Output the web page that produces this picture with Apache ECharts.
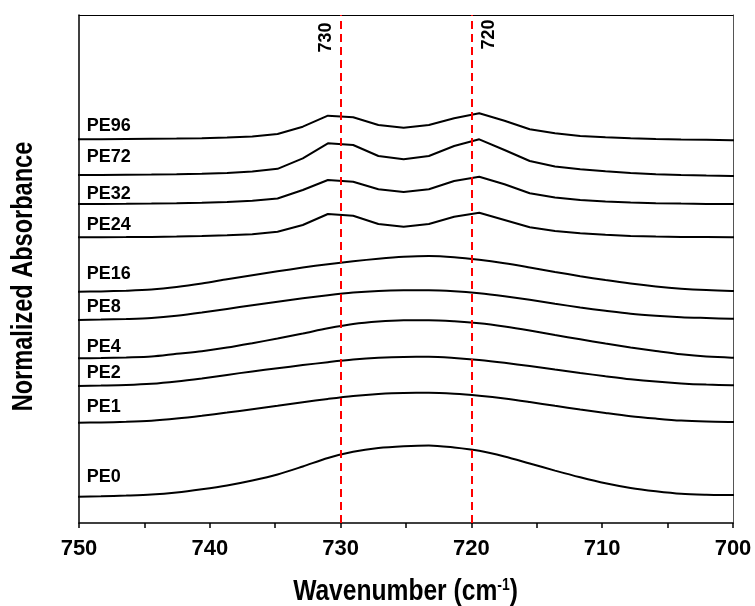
<!DOCTYPE html>
<html>
<head>
<meta charset="utf-8">
<script src="https://cdn.jsdelivr.net/npm/echarts@6/dist/echarts.min.js"></script>
<style>html,body{margin:0;padding:0;background:#fff;}#c{width:755px;height:606px;}</style>
</head>
<body>
<div id="c"></div>
<script>
// ---- data (wavenumber in cm-1, normalized absorbance with vertical offsets) ----
const wavenumber = [750.25, 748.32, 746.39, 744.46, 742.54, 740.61, 738.68, 736.75, 734.82, 732.89, 730.97, 729.04, 727.11, 725.18, 723.25, 721.32, 719.40, 717.47, 715.54, 713.61, 711.68, 709.75, 707.83, 705.90, 703.97, 702.04, 700.11, 698.18];
const pe96 = [3.837, 3.838, 3.840, 3.842, 3.844, 3.848, 3.855, 3.865, 3.890, 3.963, 4.073, 4.057, 3.980, 3.953, 3.980, 4.047, 4.097, 4.023, 3.937, 3.897, 3.870, 3.858, 3.848, 3.841, 3.836, 3.832, 3.828, 3.825];
const pe72 = [3.480, 3.481, 3.483, 3.485, 3.488, 3.493, 3.501, 3.515, 3.542, 3.647, 3.797, 3.780, 3.670, 3.637, 3.670, 3.770, 3.837, 3.730, 3.620, 3.565, 3.537, 3.517, 3.500, 3.488, 3.480, 3.474, 3.470, 3.467];
const pe32 = [3.190, 3.191, 3.192, 3.194, 3.197, 3.202, 3.210, 3.222, 3.245, 3.330, 3.430, 3.413, 3.337, 3.310, 3.337, 3.420, 3.463, 3.387, 3.297, 3.255, 3.230, 3.215, 3.204, 3.198, 3.194, 3.191, 3.189, 3.187];
const pe24 = [2.857, 2.858, 2.859, 2.861, 2.864, 2.869, 2.877, 2.888, 2.913, 2.980, 3.090, 3.073, 2.990, 2.963, 2.990, 3.063, 3.103, 3.030, 2.957, 2.920, 2.897, 2.882, 2.871, 2.865, 2.861, 2.859, 2.857, 2.856];
const pe16 = [2.312, 2.316, 2.323, 2.335, 2.360, 2.395, 2.437, 2.478, 2.517, 2.554, 2.588, 2.618, 2.643, 2.662, 2.670, 2.658, 2.632, 2.597, 2.555, 2.511, 2.468, 2.429, 2.394, 2.365, 2.343, 2.329, 2.321, 2.317];
const pe8  = [2.029, 2.034, 2.040, 2.050, 2.072, 2.104, 2.141, 2.178, 2.213, 2.247, 2.278, 2.304, 2.320, 2.327, 2.328, 2.318, 2.297, 2.267, 2.232, 2.193, 2.155, 2.122, 2.092, 2.072, 2.058, 2.050, 2.043, 2.040];
const pe4  = [1.646, 1.650, 1.656, 1.665, 1.692, 1.718, 1.754, 1.798, 1.845, 1.895, 1.947, 1.990, 2.015, 2.027, 2.028, 2.017, 1.997, 1.965, 1.925, 1.880, 1.837, 1.795, 1.755, 1.720, 1.687, 1.664, 1.653, 1.650];
const pe2  = [1.369, 1.374, 1.380, 1.392, 1.415, 1.446, 1.481, 1.516, 1.548, 1.579, 1.608, 1.634, 1.652, 1.661, 1.662, 1.650, 1.630, 1.602, 1.569, 1.534, 1.500, 1.468, 1.438, 1.414, 1.396, 1.384, 1.377, 1.375];
const pe1  = [1.002, 1.006, 1.012, 1.023, 1.044, 1.072, 1.104, 1.138, 1.172, 1.207, 1.241, 1.271, 1.291, 1.301, 1.302, 1.292, 1.272, 1.245, 1.210, 1.172, 1.135, 1.100, 1.068, 1.044, 1.024, 1.014, 1.010, 1.008];
const pe0  = [0.262, 0.267, 0.274, 0.284, 0.305, 0.337, 0.375, 0.425, 0.485, 0.565, 0.650, 0.712, 0.750, 0.768, 0.776, 0.755, 0.722, 0.665, 0.595, 0.524, 0.457, 0.397, 0.350, 0.317, 0.292, 0.283, 0.280, 0.278];
const seriesNames = ['PE96', 'PE72', 'PE32', 'PE24', 'PE16', 'PE8', 'PE4', 'PE2', 'PE1', 'PE0'];
const refLines = [730, 720];
const xTicks = [750, 740, 730, 720, 710, 700];
const xTitle = 'Wavenumber (cm';
const yTitle = 'Normalized Absorbance';

// ---- presentation ----
const seriesValues = [pe96, pe72, pe32, pe24, pe16, pe8, pe4, pe2, pe1, pe0];
const smoothFlags = [false, false, false, false, true, true, true, true, true, true];
const labelAnchorY = [3.97, 3.663, 3.29, 2.98, 2.487, 2.163, 1.763, 1.497, 1.163, 0.457];
const refLabelPos = [[731.12, 4.855], [718.65, 4.885]];
const FONT = "'Liberation Sans', Arial, Helvetica, sans-serif";

const chart = echarts.init(document.getElementById('c'), null, {renderer: 'canvas'});

const series = seriesNames.map((name, k) => ({
  name: name,
  type: 'line',
  data: wavenumber.map((w, i) => [w, seriesValues[k][i]]),
  showSymbol: false,
  symbol: 'none',
  smooth: smoothFlags[k] ? 0.3 : false,
  clip: false,
  lineStyle: {color: '#000', width: 2},
  animation: false,
  silent: true,
  markPoint: {
    symbol: 'circle',
    symbolSize: 0,
    animation: false,
    label: {
      show: true, position: 'right', distance: 0,
      formatter: name, color: '#000',
      fontFamily: FONT, fontWeight: 'bold', fontSize: 18
    },
    data: [{coord: [749.4, labelAnchorY[k]]}]
  }
}));

series[0].markLine = {
  symbol: 'none',
  silent: true,
  animation: false,
  label: {show: false},
  lineStyle: {color: '#ff0000', type: [8, 5], width: 2},
  data: refLines.map(v => ({xAxis: v}))
};
series[0].markPoint.data = series[0].markPoint.data.concat(refLines.map((v, i) => ({
  coord: refLabelPos[i],
  label: {show: true, position: 'inside', rotate: 90, formatter: String(v), fontSize: 18, fontFamily: FONT, fontWeight: 'bold', color: '#000'}
})));

chart.setOption({
  backgroundColor: '#fff',
  animation: false,
  grid: {left: 79, right: 22, top: 15, bottom: 83, containLabel: false},
  xAxis: [{
    type: 'value', min: 700, max: 750, interval: 10, inverse: true,
    axisLine: {show: true, onZero: false, lineStyle: {color: '#000', width: 1.5}},
    axisTick: {show: true, inside: false, length: 5, lineStyle: {color: '#000', width: 1.5}},
    minorTick: {show: true, splitNumber: 2, length: 5, lineStyle: {color: '#000', width: 1.5}},
    splitLine: {show: false},
    axisLabel: {
      show: true, margin: 15, color: '#000', fontFamily: FONT, fontWeight: 'bold', fontSize: 22,
      formatter: v => (xTicks.indexOf(v) >= 0 ? String(v) : '')
    }
  }, {
    type: 'value', min: 700, max: 750, inverse: true, position: 'top',
    axisLine: {show: true, onZero: false, lineStyle: {color: '#000', width: 1}},
    axisTick: {show: false}, axisLabel: {show: false}, splitLine: {show: false}
  }],
  yAxis: [{
    type: 'value', min: 0, max: 5.08,
    axisLine: {show: true, onZero: false, lineStyle: {color: '#000', width: 1.5}},
    axisTick: {show: false}, axisLabel: {show: false}, splitLine: {show: false}
  }, {
    type: 'value', min: 0, max: 5.08, position: 'right',
    axisLine: {show: true, onZero: false, lineStyle: {color: '#555', width: 1}},
    axisTick: {show: false}, axisLabel: {show: false}, splitLine: {show: false}
  }],
  graphic: [{
    type: 'text', x: 24, y: 276.5, rotation: Math.PI / 2, scaleX: 0.785, silent: true,
    style: {text: yTitle, fill: '#000', font: "bold 30px " + FONT, align: 'center', verticalAlign: 'middle'}
  }, {
    type: 'text', x: 405.5, y: 592, scaleX: 0.82, silent: true,
    style: {
      text: xTitle + '{sup|-1}{p|)}', fill: '#000', font: "bold 30px " + FONT, align: 'center', verticalAlign: 'middle',
      rich: {
        sup: {fontFamily: FONT, fontWeight: 'bold', fontSize: 17, fill: '#000', verticalAlign: 'bottom', padding: [0, 0, 14, 0]},
        p: {fontFamily: FONT, fontWeight: 'bold', fontSize: 30, fill: '#000'}
      }
    }
  }],
  series: series
});
</script>
</body>
</html>
